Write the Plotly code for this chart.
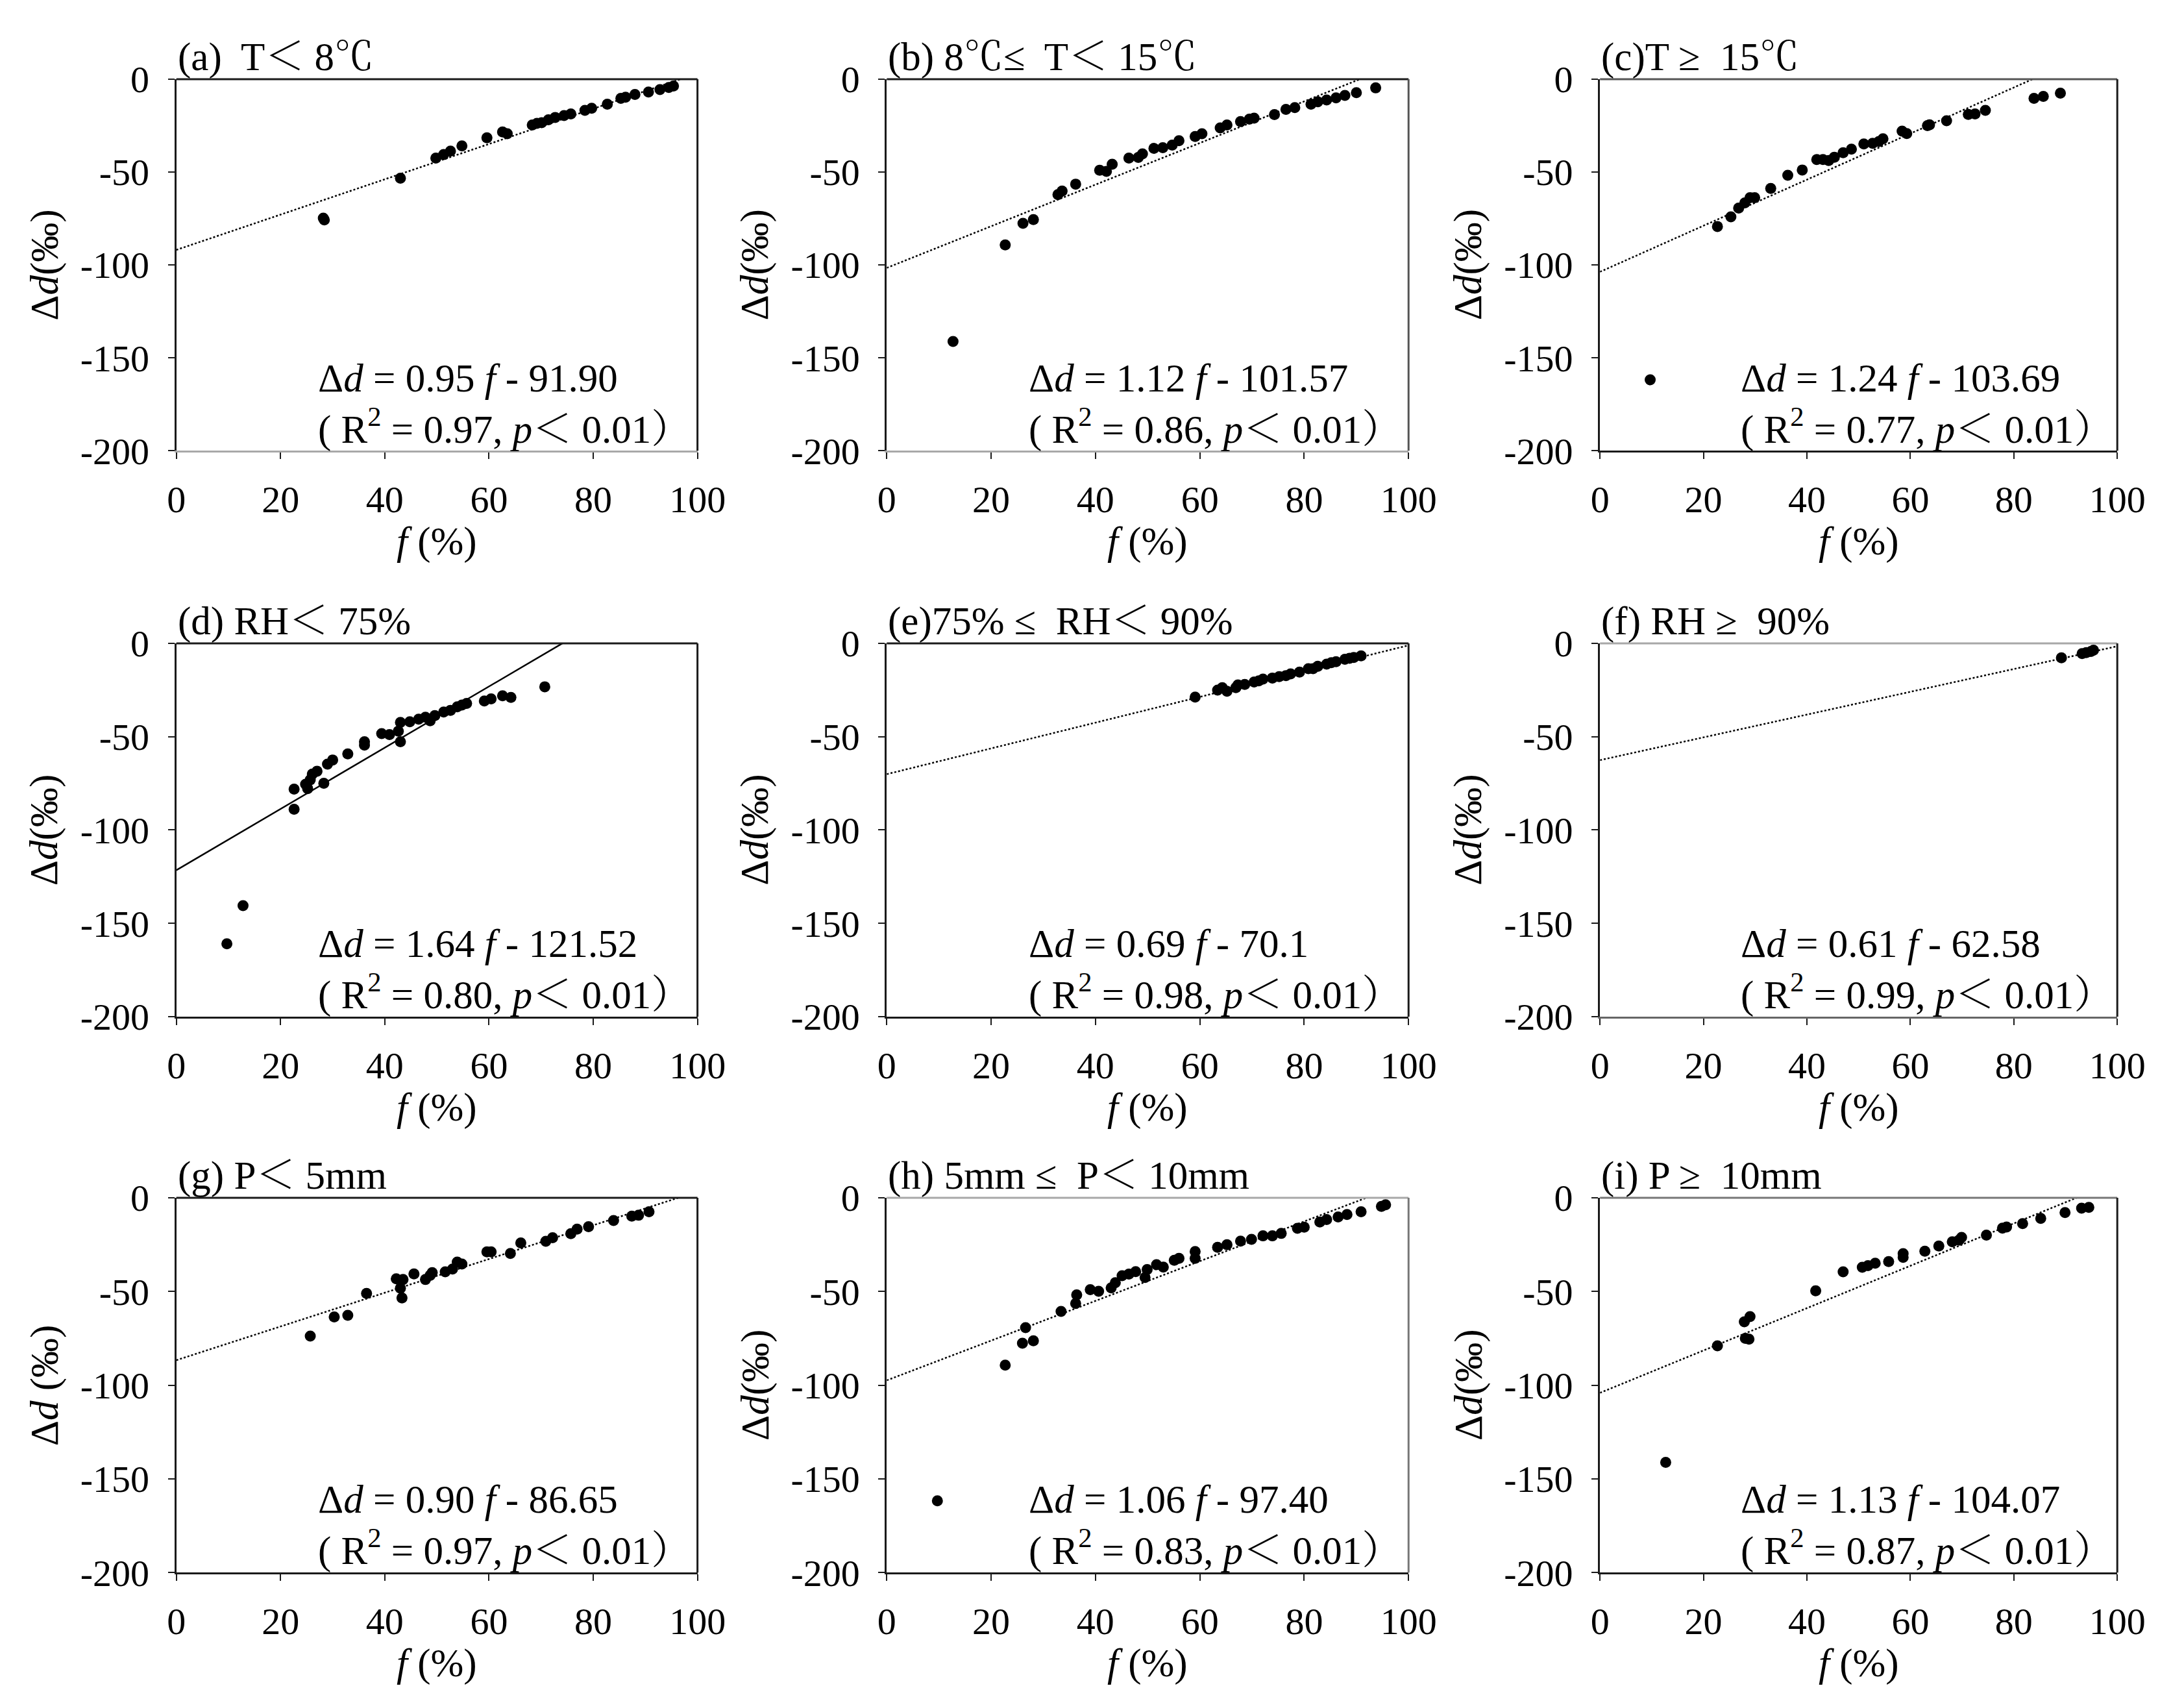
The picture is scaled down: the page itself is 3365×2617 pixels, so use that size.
import plotly.graph_objects as go
from plotly.subplots import make_subplots

FONT = "Liberation Serif, Times New Roman, Noto Serif CJK SC, Noto Sans CJK SC, serif"
TICK_SIZE = 58
TEXT_SIZE = 61
DARK = "#1a1a1a"
LIGHT = "#a8a8a8"

# ---------------------------------------------------------------------------
# Data
# ---------------------------------------------------------------------------

panel_titles = [
    "(a)  T＜ 8℃",
    "(b) 8℃≤  T＜ 15℃",
    "(c)T ≥  15℃",
    "(d) RH＜ 75%",
    "(e)75% ≤  RH＜ 90%",
    "(f) RH ≥  90%",
    "(g) P＜ 5mm",
    "(h) 5mm ≤  P＜ 10mm",
    "(i) P ≥  10mm",
]

f_a = [28.2, 28.4, 43.0, 49.8, 51.3, 52.6, 54.8, 59.6, 62.6, 63.5, 68.3, 69.2, 70.1,
       71.4, 72.7, 74.4, 75.7, 78.4, 79.7, 82.7, 85.3, 86.2, 88.0, 90.6, 92.8, 94.5, 95.4]
d_a = [-74.8, -75.8, -53.3, -42.5, -40.6, -38.7, -35.9, -31.6, -28.4, -29.4, -24.7, -23.8, -23.4,
       -21.9, -20.6, -19.6, -18.7, -16.8, -15.7, -13.5, -10.3, -9.7, -8.2, -6.9, -5.6, -4.5, -3.7]

f_b = [12.7, 22.7, 26.1, 28.1, 32.8, 33.6, 36.2, 40.8, 42.1, 43.2, 46.4, 48.2, 49.0, 51.2,
       52.9, 54.7, 56.0, 59.1, 60.4, 63.9, 65.2, 67.8, 69.5, 70.4, 74.3, 76.5, 78.2, 81.3,
       82.6, 84.3, 86.1, 87.8, 90.0, 93.7]
d_b = [-141.2, -89.2, -77.6, -75.6, -62.1, -60.2, -56.5, -49.0, -49.6, -45.8, -42.5, -42.1,
       -40.2, -37.2, -36.9, -35.5, -33.1, -30.9, -29.4, -26.2, -24.7, -22.8, -21.5, -21.0,
       -19.1, -16.3, -15.3, -13.5, -12.2, -11.2, -10.1, -8.8, -7.3, -4.7]

f_c = [9.7, 22.7, 25.3, 26.8, 28.0, 29.0, 29.9, 33.0, 36.3, 39.1, 41.9, 43.1, 44.2, 45.3,
       47.0, 48.6, 51.0, 52.7, 53.9, 54.7, 58.4, 59.3, 63.3, 63.7, 67.0, 71.2, 72.5, 74.5,
       83.9, 85.7, 89.0]
d_c = [-161.8, -79.3, -74.1, -69.4, -66.6, -63.8, -63.8, -58.8, -51.7, -48.9, -43.3, -43.3,
       -43.8, -42.0, -39.6, -37.7, -34.9, -34.5, -33.6, -32.1, -28.0, -29.3, -25.0, -24.6,
       -22.4, -19.0, -18.7, -16.8, -10.3, -9.3, -7.5]

f_d = [9.7, 12.8, 22.6, 22.6, 24.8, 25.2, 25.7, 26.1, 27.0, 28.3, 29.0, 30.0, 32.9, 36.1,
       36.1, 39.4, 40.9, 42.6, 43.0, 43.0, 44.8, 46.5, 47.8, 48.7, 49.6, 51.3, 52.6, 53.9,
       54.8, 55.7, 59.1, 60.4, 62.6, 64.2, 70.7]
d_d = [-160.9, -140.5, -78.1, -88.9, -75.5, -77.8, -73.1, -70.0, -68.5, -75.0, -64.7, -62.5,
       -59.2, -54.5, -52.7, -48.4, -48.9, -47.1, -52.7, -42.4, -42.0, -40.6, -39.6, -41.5,
       -38.7, -36.8, -35.9, -34.0, -33.1, -32.2, -30.9, -29.8, -28.1, -29.0, -23.3]

f_e = [59.1, 63.4, 64.3, 65.2, 66.9, 67.3, 68.6, 70.4, 71.3, 72.1, 73.9, 75.2, 76.5, 77.4,
       79.1, 80.8, 81.7, 82.6, 84.3, 85.2, 86.1, 87.8, 88.7, 89.5, 90.9]
d_e = [-28.8, -25.1, -23.8, -25.7, -23.8, -22.3, -22.0, -20.7, -20.1, -19.2, -18.6, -17.9,
       -17.3, -16.4, -15.4, -13.6, -13.6, -12.3, -11.2, -10.4, -9.9, -8.6, -8.0, -7.6, -6.7]

f_f = [89.2, 93.2, 94.0, 94.9, 95.4]
d_f = [-7.8, -5.5, -5.0, -4.4, -3.7]

f_g = [25.7, 30.3, 32.9, 36.5, 42.2, 43.5, 43.0, 43.3, 45.6, 47.8, 48.7, 49.1, 51.6, 53.0,
       53.9, 54.8, 59.6, 60.4, 64.1, 66.1, 70.9, 72.2, 75.7, 76.9, 79.1, 83.9, 87.4, 88.7, 90.7]
d_g = [-73.8, -63.6, -62.7, -51.0, -43.2, -43.6, -48.2, -53.4, -40.6, -43.6, -41.4, -39.9,
       -39.5, -38.0, -34.3, -35.3, -28.8, -28.8, -29.7, -24.1, -23.2, -21.3, -19.1, -16.7,
       -15.4, -12.1, -9.8, -9.3, -7.4]

f_h = [9.7, 22.7, 26.0, 26.6, 28.1, 33.4, 36.2, 36.4, 39.0, 40.6, 43.0, 43.8, 45.1, 46.4,
       47.7, 49.5, 49.9, 51.7, 53.0, 55.1, 56.0, 59.1, 59.1, 63.4, 65.2, 67.8, 69.9, 72.1,
       73.9, 75.6, 78.7, 80.0, 83.0, 84.3, 86.5, 88.2, 90.9, 94.8, 95.6]
d_h = [-161.7, -89.3, -77.6, -69.3, -76.3, -60.6, -56.4, -51.8, -49.0, -49.9, -48.1, -45.3,
       -41.6, -40.7, -39.4, -42.5, -38.3, -35.7, -37.0, -33.3, -32.3, -32.3, -28.7, -26.4,
       -25.0, -23.1, -22.2, -20.3, -20.3, -19.0, -16.3, -15.7, -12.9, -11.6, -10.2, -8.9,
       -7.4, -4.6, -3.7]

f_i = [12.7, 22.7, 27.9, 29.0, 28.1, 28.8, 41.7, 47.0, 50.7, 51.8, 53.2, 55.8, 58.6, 58.6,
       62.8, 65.5, 68.1, 69.4, 69.9, 74.7, 77.8, 78.6, 81.7, 85.2, 89.9, 93.1, 94.5]
d_i = [-141.2, -79.0, -66.2, -63.4, -75.0, -75.4, -49.6, -39.5, -37.1, -36.2, -34.9, -34.0,
       -31.8, -29.8, -28.5, -25.7, -23.5, -22.6, -21.1, -19.9, -16.2, -15.6, -13.8, -11.0,
       -7.9, -5.5, -5.1]

f_values = [f_a, f_b, f_c, f_d, f_e, f_f, f_g, f_h, f_i]
d_values = [d_a, d_b, d_c, d_d, d_e, d_f, d_g, d_h, d_i]

slope_labels = ["0.95", "1.12", "1.24", "1.64", "0.69", "0.61", "0.90", "1.06", "1.13"]
intercept_labels = ["91.90", "101.57", "103.69", "121.52", "70.1", "62.58", "86.65", "97.40", "104.07"]
r2_labels = ["0.97", "0.86", "0.77", "0.80", "0.98", "0.99", "0.97", "0.83", "0.87"]
fit_dash = ["dot", "dot", "dot", "solid", "dot", "dot", "dot", "dot", "dot"]
y_titles = ["Δ<i>d</i>(‰)"] * 6 + ["Δ<i>d</i> (‰)"] + ["Δ<i>d</i>(‰)"] * 2

X_TICKS = [0, 20, 40, 60, 80, 100]
X_TICK_TEXT = ["0", "20", "40", "60", "80", "100"]
Y_TICKS = [0, -50, -100, -150, -200]
Y_TICK_TEXT = ["0", "-50", "-100", "-150", "-200"]

# frame colours as they look in the scan (top / bottom / right)
top_line = [DARK, DARK, "#555555", DARK, DARK, LIGHT, DARK, LIGHT, "#777777"]
bottom_line = [LIGHT, LIGHT, DARK, DARK, DARK, "#666666", DARK, DARK, DARK]
right_line = [DARK, "#555555", DARK, DARK, DARK, DARK, DARK, "#777777", DARK]

# plot-area positions in paper fractions
X_DOMAINS = [(0.0752, 0.3180), (0.4062, 0.6493), (0.7385, 0.9795)]
Y_DOMAINS = [(0.7436, 0.9679), (0.4020, 0.6274), (0.0665, 0.2927)]

# ---------------------------------------------------------------------------
# Figure
# ---------------------------------------------------------------------------

fig = make_subplots(rows=3, cols=3)

for i in range(9):
    r, c = i // 3 + 1, i % 3 + 1
    slope = float(slope_labels[i])
    icpt = -float(intercept_labels[i])
    x_end = min(100.0, -icpt / slope)

    fig.add_trace(
        go.Scatter(
            x=[0, x_end], y=[icpt, slope * x_end + icpt],
            mode="lines",
            line=dict(color="black", width=2.5, dash=fit_dash[i]),
            showlegend=False, hoverinfo="skip",
        ),
        row=r, col=c,
    )
    fig.add_trace(
        go.Scatter(
            x=f_values[i], y=d_values[i],
            mode="markers",
            marker=dict(color="black", size=17),
            showlegend=False,
        ),
        row=r, col=c,
    )

    fig.update_xaxes(
        domain=X_DOMAINS[c - 1], range=[0, 100],
        tickvals=X_TICKS, ticktext=X_TICK_TEXT,
        showline=True, linecolor=bottom_line[i], linewidth=3,
        ticks="outside", ticklen=10, tickwidth=2, tickcolor=DARK,
        ticklabelstandoff=12, showgrid=False, zeroline=False,
        tickfont=dict(size=TICK_SIZE),
        row=r, col=c,
    )
    fig.update_yaxes(
        domain=Y_DOMAINS[r - 1], range=[-200, 0],
        tickvals=Y_TICKS, ticktext=Y_TICK_TEXT,
        showline=True, linecolor=DARK, linewidth=3,
        ticks="outside", ticklen=10, tickwidth=2, tickcolor=DARK,
        ticklabelstandoff=17, showgrid=False, zeroline=False,
        tickfont=dict(size=TICK_SIZE),
        row=r, col=c,
    )

    sfx = "" if i == 0 else str(i + 1)
    xd, yd = f"x{sfx} domain", f"y{sfx} domain"

    # top and right sides of the frame
    fig.add_shape(type="line", xref=xd, yref=yd, x0=0, x1=1, y0=1, y1=1,
                  line=dict(color=top_line[i], width=3))
    fig.add_shape(type="line", xref=xd, yref=yd, x0=1, x1=1, y0=0, y1=1,
                  line=dict(color=right_line[i], width=3))

    fig.add_annotation(text=panel_titles[i], xref=xd, yref=yd, x=0, y=1,
                       xanchor="left", yanchor="bottom", yshift=-2, showarrow=False)
    fig.add_annotation(text=y_titles[i], xref=xd, yref=yd, x=0, y=0.5, xshift=-203,
                       textangle=-90, xanchor="center", yanchor="middle", showarrow=False)
    fig.add_annotation(text="<i>f</i> (%)", xref=xd, yref=yd, x=0.5, y=0, yshift=-140,
                       xanchor="center", yanchor="middle", showarrow=False)
    fig.add_annotation(
        text=f"Δ<i>d</i> = {slope_labels[i]} <i>f</i> - {intercept_labels[i]}",
        xref=xd, yref=yd, x=0.27, y=0.195,
        xanchor="left", yanchor="middle", showarrow=False)
    fig.add_annotation(
        text=f"( R<sup>2</sup> = {r2_labels[i]}, <i>p</i>＜ 0.01）",
        xref=xd, yref=yd, x=0.27, y=0.066,
        xanchor="left", yanchor="middle", showarrow=False)

fig.update_layout(
    width=3365, height=2617,
    margin=dict(l=0, r=0, t=0, b=0),
    paper_bgcolor="white", plot_bgcolor="white",
    font=dict(family=FONT, size=TEXT_SIZE, color="black"),
    showlegend=False,
)

fig.write_html("out.html")
